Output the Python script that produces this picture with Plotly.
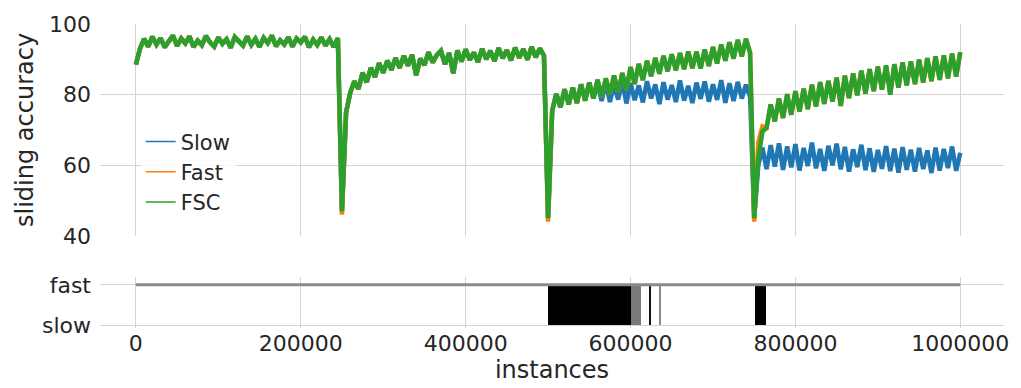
import plotly.graph_objects as go

# ---------------- data ----------------
step = 5000
instances = list(range(0, 1000001, step))

# concept 1 (0 .. 245000): all three models coincide
concept1_acc = [88.5, 93.0, 95.8, 93.6, 96.4, 94.2, 96.0, 93.4, 95.1, 96.7,
                93.8, 95.9, 94.5, 96.5, 93.5, 95.3, 94.0, 96.6, 94.8, 93.6,
                96.2, 94.4, 95.7, 93.3, 96.3, 94.9, 93.9, 96.5, 94.1, 95.8,
                93.5, 96.1, 94.6, 96.7, 93.7, 95.4, 94.2, 96.3, 93.6, 95.9,
                94.8, 96.4, 93.4, 95.6, 94.1, 96.2, 93.9, 95.7, 93.5, 96.0]

# concept 2 (250000 .. 495000): all three models coincide
concept2_acc = [47.0, 75.0, 80.5, 83.8, 81.6, 86.2, 83.5, 87.6, 85.0, 88.9,
                86.2, 89.6, 87.0, 90.4, 87.6, 91.0, 88.2, 91.3, 85.5, 90.2,
                88.4, 92.0, 89.1, 91.2, 92.4, 88.6, 91.8, 86.0, 92.5, 89.4,
                92.8, 89.8, 91.9, 89.2, 93.0, 90.0, 92.4, 89.5, 93.2, 90.3,
                92.6, 89.7, 93.3, 90.4, 92.9, 89.9, 93.5, 90.6, 93.1, 91.0]

# concept 3 (500000 .. 745000)
concept3_fsc = [45.0, 75.5, 80.2, 76.4, 81.5, 77.2, 82.0, 77.6, 82.9, 78.3,
                83.4, 78.9, 84.2, 79.3, 84.6, 80.2, 85.4, 80.6, 86.1, 81.4,
                87.8, 83.0, 88.7, 84.1, 89.6, 85.2, 90.4, 85.9, 91.0, 86.6,
                91.4, 86.9, 91.8, 87.2, 92.2, 87.5, 92.1, 87.4, 92.8, 88.1,
                93.5, 88.8, 94.2, 89.6, 94.8, 90.2, 95.5, 90.8, 95.8, 91.9]
concept3_slow = [45.0, 75.5, 80.2, 76.4, 81.5, 77.2, 82.0, 77.6, 82.9, 78.3,
                 83.4, 78.9, 83.1, 78.2, 83.6, 77.9, 82.8, 78.6, 83.9, 77.5,
                 83.3, 78.4, 82.6, 77.8, 83.8, 78.9, 82.9, 77.3, 83.5, 78.6,
                 82.7, 77.9, 84.0, 78.3, 82.5, 77.6, 83.4, 78.8, 83.7, 78.0,
                 82.9, 78.5, 84.1, 77.7, 83.2, 78.2, 83.6, 78.9, 82.8, 79.4]

# concept 4 (750000 .. 1000000)
concept4_fsc = [45.0, 62.0, 69.5, 70.6, 77.2, 72.4, 78.9, 73.4, 80.1, 74.3,
                81.0, 75.2, 81.7, 75.9, 82.8, 76.6, 83.5, 77.4, 83.9, 78.0,
                84.8, 76.8, 85.4, 79.0, 86.0, 79.8, 86.8, 80.3, 87.2, 81.0,
                87.9, 81.4, 88.3, 80.0, 88.6, 82.0, 89.1, 82.6, 89.4, 83.0,
                89.9, 83.4, 90.3, 83.8, 90.8, 84.2, 91.1, 84.6, 91.6, 85.1,
                92.0]
concept4_slow = [45.0, 60.0, 65.0, 58.9, 65.7, 59.6, 66.2, 58.7, 65.3, 59.4,
                 66.0, 58.5, 64.9, 59.8, 66.4, 59.1, 64.6, 58.4, 65.5, 60.0,
                 66.1, 58.8, 65.2, 58.2, 64.5, 59.5, 65.8, 58.6, 64.8, 58.1,
                 64.3, 59.0, 65.4, 58.3, 64.7, 57.9, 65.1, 58.7, 64.4, 58.2,
                 64.9, 58.9, 64.2, 57.8, 65.0, 58.5, 64.6, 59.2, 65.3, 58.4,
                 63.5]
# the fast learner differs from FSC only right at the drifts
concept2_fast_start = [46.0]
concept3_fast_start = [44.0]
concept4_fast_start = [44.0, 66.5, 71.0]

slow_acc = concept1_acc + concept2_acc + concept3_slow + concept4_slow
fast_acc = (concept1_acc
            + concept2_fast_start + concept2_acc[1:]
            + concept3_fast_start + concept3_fsc[1:]
            + concept4_fast_start + concept4_fsc[3:])
fsc_acc = concept1_acc + concept2_acc + concept3_fsc + concept4_fsc

# periods where FSC switches between the fast and slow model
switch_start = [500000, 601000, 623500, 635500, 751000]
switch_end = [601000, 613000, 625000, 637500, 764000]

mode_labels = ["slow", "fast"]
x_ticks = [0, 200000, 400000, 600000, 800000, 1000000]
y_ticks = [40, 60, 80, 100]

# ---------------- figure ----------------
FONT = "DejaVu Sans"
TXT = "#262626"
GRID = "#d4d4d4"

fig = go.Figure()

series = [("Slow", slow_acc, "#1f77b4"),
          ("Fast", fast_acc, "#ff7f0e"),
          ("FSC", fsc_acc, "#2ca02c")]
for name, vals, col in series:
    fig.add_trace(go.Scatter(x=instances, y=vals, mode="lines", name=name,
                             line=dict(color=col, width=4.5),
                             showlegend=False, xaxis="x", yaxis="y"))
# legend entries drawn with a thin line, as in the reference
for name, vals, col in series:
    fig.add_trace(go.Scatter(x=[None], y=[None], mode="lines", name=name,
                             line=dict(color=col, width=1.6),
                             xaxis="x", yaxis="y"))

# FSC mode: baseline at "fast", black where it switches to "slow"
fig.add_trace(go.Scatter(x=[instances[0], instances[-1]],
                         y=[mode_labels.index("fast")] * 2,
                         mode="lines", line=dict(color="#8a8a8a", width=3),
                         showlegend=False, xaxis="x2", yaxis="y2"))
centers = [(s + e) / 2 for s, e in zip(switch_start, switch_end)]
widths = [e - s for s, e in zip(switch_start, switch_end)]
fig.add_trace(go.Bar(x=centers, width=widths,
                     y=[mode_labels.index("fast")] * len(centers),
                     base=mode_labels.index("slow"),
                     marker=dict(color=["#000000", "#7a7a7a", "#111111", "#8a8a8a", "#000000"],
                                 line=dict(width=0)),
                     showlegend=False, xaxis="x2", yaxis="y2"))

xr = [-43500, 1053000]
fig.update_layout(
    width=1021, height=388,
    margin=dict(l=100, r=14, t=22, b=56),
    paper_bgcolor="white", plot_bgcolor="white",
    font=dict(family=FONT, size=22, color=TXT),
    showlegend=True,
    legend=dict(x=0.045, y=0.68, xanchor="left", yanchor="top",
                bgcolor="rgba(255,255,255,0.85)", borderwidth=0,
                tracegroupgap=0,
                font=dict(size=21, color=TXT), entrywidth=110),
    xaxis=dict(domain=[0, 1], anchor="y", range=xr, tickvals=x_ticks,
               showticklabels=False, showgrid=True, gridcolor=GRID, gridwidth=1,
               zeroline=False, showline=False, ticks=""),
    yaxis=dict(domain=[0.3032, 1], anchor="x", range=[40, 100], tickvals=y_ticks,
               showgrid=True, gridcolor=GRID, gridwidth=1, zeroline=False,
               showline=False, ticks="", ticklabelstandoff=8,
               title=dict(text="sliding accuracy", standoff=8,
                          font=dict(size=24, color=TXT))),
    xaxis2=dict(domain=[0, 1], anchor="y2", range=xr, tickvals=x_ticks,
                ticktext=[str(v) for v in x_ticks],
                showgrid=True, gridcolor=GRID, gridwidth=1, zeroline=False,
                showline=False, ticks="",
                title=dict(text="instances", standoff=3,
                           font=dict(size=24, color=TXT))),
    yaxis2=dict(domain=[0, 0.1677], anchor="x2", range=[-0.073, 1.195],
                tickvals=[0, 1], ticktext=mode_labels,
                showgrid=True, gridcolor=GRID, gridwidth=1, zeroline=False,
                showline=False, ticks="", ticklabelstandoff=8),
    bargap=0,
)

fig.write_html("out.html")
